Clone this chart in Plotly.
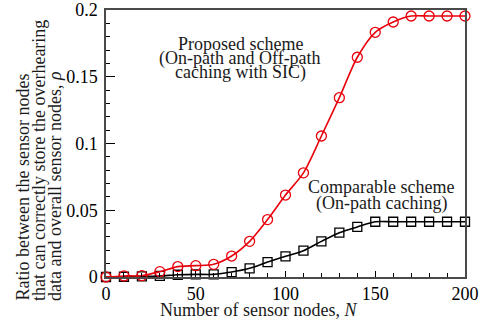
import plotly.graph_objects as go

N = [0, 10, 20, 30, 40, 50, 60, 70, 80, 90, 100, 110, 120, 130, 140, 150, 160, 170, 180, 190, 200]
proposed = [0.0, 0.0008, 0.001, 0.004, 0.0078, 0.0085, 0.0095, 0.0157, 0.0267, 0.043, 0.0614,
            0.078, 0.1056, 0.1343, 0.1646, 0.1833, 0.191, 0.1955, 0.1955, 0.1955, 0.1955]
comparable = [0.0, 0.0002, 0.0005, 0.0008, 0.0017, 0.002, 0.002, 0.0037, 0.0065, 0.0112, 0.0155,
              0.0197, 0.0267, 0.0332, 0.0375, 0.0414, 0.0414, 0.0414, 0.0414, 0.0414, 0.0414]
x_ticks = [0, 50, 100, 150, 200]
y_ticks = [0, 0.05, 0.1, 0.15, 0.2]
y_tick_labels = ["0", "0.05", "0.1", "0.15", "0.2"]

FONT = "Liberation Serif"
W, H = 479, 321
L, R, T, B = 106, 14, 10, 44
pw, ph = W - L - R, H - T - B

def px_x(p):
    return (p - L) / pw

def px_y(p):
    return (H - B - p) / ph

fig = go.Figure()
fig.add_trace(go.Scatter(
    x=N, y=comparable, mode="lines+markers",
    line=dict(color="black", width=1.6, shape="spline", smoothing=0.8),
    marker=dict(symbol="square-open", size=9, color="black", line=dict(width=1.3)),
    cliponaxis=False, showlegend=False))
fig.add_trace(go.Scatter(
    x=N, y=proposed, mode="lines+markers",
    line=dict(color="#e8000b", width=1.6, shape="spline", smoothing=0.8),
    marker=dict(symbol="circle-open", size=10, color="#e8000b", line=dict(width=1.3)),
    cliponaxis=False, showlegend=False))

axis_common = dict(showgrid=False, zeroline=False, showline=True, linecolor="#4a4a4a",
                   linewidth=1.5, mirror=True, ticks="inside", tickcolor="black",
                   automargin=False,
                   tickfont=dict(family=FONT, size=18, color="black"))

fig.update_xaxes(range=[0, 200], tickvals=x_ticks, ticklen=6, tickwidth=1,
                 minor=dict(dtick=10, ticklen=4, ticks="inside", tickcolor="black"),
                 **axis_common)
fig.update_yaxes(range=[0, 0.2], tickvals=y_ticks, ticktext=y_tick_labels, ticklen=9, tickwidth=1,
                 minor=dict(dtick=0.01, ticklen=4.5, ticks="inside", tickcolor="black"),
                 ticklabelstandoff=3, **axis_common)

ann = []
txtfont = dict(family=FONT, size=18, color="#1a1a1a")
for txt, cy in [("Proposed scheme", 44), ("(On-path and Off-path", 58), ("caching with SIC)", 72)]:
    ann.append(dict(text=txt, x=px_x(240), y=px_y(cy), xref="paper", yref="paper",
                    showarrow=False, font=txtfont, xanchor="center", yanchor="middle"))
for txt, cy in [("Comparable scheme", 187), ("(On-path caching)", 203)]:
    ann.append(dict(text=txt, x=px_x(381), y=px_y(cy), xref="paper", yref="paper",
                    showarrow=False, font=txtfont, xanchor="center", yanchor="middle"))
for txt, cx in [("Ratio between the sensor nodes", 22),
                ("that can correctly store the overhearing", 38.5),
                ("data and overall sensor nodes, <i>ρ</i>", 55)]:
    ann.append(dict(text=txt, x=px_x(cx), y=px_y(303), xref="paper", yref="paper",
                    showarrow=False, font=txtfont, textangle=-90,
                    xanchor="center", yanchor="bottom"))
ann.append(dict(text="Number of sensor nodes, <i>N</i>", x=px_x(258), y=px_y(310),
                xref="paper", yref="paper", showarrow=False, font=txtfont,
                xanchor="center", yanchor="middle"))

fig.update_layout(width=W, height=H, margin=dict(l=L, r=R, t=T, b=B, autoexpand=False),
                  paper_bgcolor="white", plot_bgcolor="white",
                  annotations=ann, font=dict(family=FONT))
fig.write_html("out.html", config={"displayModeBar": False},
               post_script="document.body.style.margin='0';document.body.style.overflow='hidden';")
